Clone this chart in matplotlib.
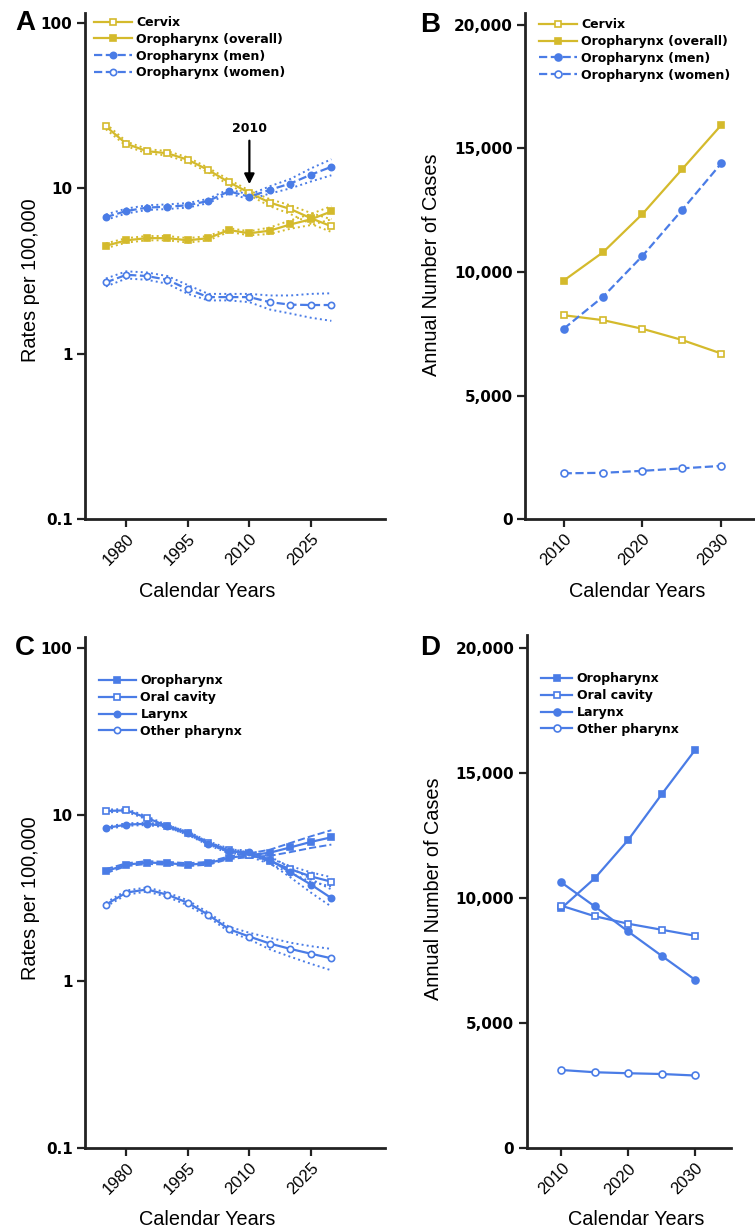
import matplotlib
matplotlib.use('Agg')
import matplotlib.pyplot as plt
from matplotlib import font_manager

# Fonts: a narrow face for axis labels if it is installed
_names = {f.name for f in font_manager.fontManager.ttflist}
NARROW = 'Liberation Sans Narrow' if 'Liberation Sans Narrow' in _names else 'Liberation Sans'
LABEL_SIZE = 15.5 if NARROW == 'Liberation Sans Narrow' else 14.3
BOLD = 'DejaVu Sans'

YELLOW = '#D4BA2C'
BLUE = '#4A7CE6'

# ---- Panel A: rates per 100,000 (log scale) ----
years_a = [1975, 1980, 1985, 1990, 1995, 2000, 2005, 2010, 2015, 2020, 2025, 2030]
cervix = [23.7, 18.6, 16.8, 16.3, 14.9, 12.9, 10.9, 9.4, 8.2, 7.5, 6.6, 5.9]
cervix_lo = [22.8, 18.0, 16.3, 15.8, 14.4, 12.5, 10.5, 9.1, 7.8, 7.0, 6.1, 5.45]
cervix_hi = [24.6, 19.2, 17.3, 16.8, 15.4, 13.3, 11.3, 9.7, 8.6, 7.9, 7.1, 6.5]
oro_all = [4.5, 4.85, 5.0, 5.0, 4.85, 5.0, 5.6, 5.35, 5.55, 6.05, 6.5, 7.25]
oro_all_lo = [4.35, 4.7, 4.85, 4.85, 4.7, 4.85, 5.45, 5.2, 5.3, 5.7, 6.0, 6.5]
oro_all_hi = [4.65, 5.0, 5.15, 5.15, 5.0, 5.15, 5.75, 5.5, 5.8, 6.4, 7.0, 7.8]
oro_men = [6.7, 7.3, 7.65, 7.75, 7.9, 8.4, 9.6, 8.9, 9.8, 10.7, 12.1, 13.5]
oro_men_lo = [6.45, 7.05, 7.4, 7.5, 7.65, 8.15, 9.3, 8.6, 9.3, 10.0, 11.0, 12.0]
oro_men_hi = [6.95, 7.55, 7.9, 8.0, 8.15, 8.65, 9.9, 9.15, 10.3, 11.4, 13.2, 15.0]
oro_women = [2.7, 3.0, 2.95, 2.8, 2.45, 2.2, 2.2, 2.2, 2.05, 1.98, 1.97, 1.97]
oro_women_lo = [2.55, 2.85, 2.8, 2.65, 2.3, 2.1, 2.1, 2.05, 1.85, 1.75, 1.65, 1.58]
oro_women_hi = [2.85, 3.15, 3.1, 2.95, 2.6, 2.3, 2.3, 2.3, 2.25, 2.25, 2.3, 2.32]

# ---- Panel B: annual number of cases ----
years_b = [2010, 2015, 2020, 2025, 2030]
cases_cervix = [8250, 8050, 7700, 7250, 6700]
cases_oro_all = [9650, 10800, 12350, 14150, 15950]
cases_oro_men = [7700, 9000, 10650, 12500, 14400]
cases_oro_women = [1850, 1870, 1950, 2050, 2150]

# ---- Panel C: rates per 100,000 by site ----
oro_c = [4.57, 5.0, 5.15, 5.1, 5.0, 5.1, 5.5, 5.7, 5.9, 6.35, 6.85, 7.3]
oro_c_lo = [4.45, 4.9, 5.05, 5.0, 4.9, 5.0, 5.4, 5.55, 5.65, 5.95, 6.3, 6.6]
oro_c_hi = [4.7, 5.1, 5.25, 5.2, 5.1, 5.2, 5.6, 5.85, 6.15, 6.75, 7.4, 8.05]
oral = [10.5, 10.6, 9.55, 8.5, 7.75, 6.75, 6.1, 5.75, 5.25, 4.7, 4.25, 3.95]
oral_lo = [10.3, 10.4, 9.35, 8.35, 7.6, 6.6, 5.95, 5.6, 5.05, 4.45, 3.95, 3.7]
oral_hi = [10.7, 10.8, 9.75, 8.65, 7.9, 6.9, 6.25, 5.9, 5.45, 4.9, 4.5, 4.2]
larynx = [8.3, 8.7, 8.8, 8.5, 7.7, 6.7, 6.0, 5.95, 5.35, 4.5, 3.8, 3.15]
larynx_lo = [8.15, 8.55, 8.65, 8.35, 7.55, 6.55, 5.85, 5.8, 5.1, 4.2, 3.4, 2.8]
larynx_hi = [8.45, 8.85, 8.95, 8.65, 7.85, 6.85, 6.15, 6.1, 5.6, 4.8, 4.1, 3.55]
other = [2.88, 3.4, 3.55, 3.3, 2.95, 2.5, 2.05, 1.85, 1.68, 1.56, 1.46, 1.37]
other_lo = [2.8, 3.3, 3.45, 3.2, 2.85, 2.42, 1.98, 1.78, 1.55, 1.4, 1.27, 1.16]
other_hi = [2.96, 3.5, 3.65, 3.4, 3.05, 2.58, 2.12, 1.95, 1.82, 1.7, 1.62, 1.56]

# ---- Panel D: annual number of cases by site ----
cases_oro = [9600, 10800, 12330, 14150, 15920]
cases_oral = [9700, 9280, 8980, 8740, 8500]
cases_larynx = [10630, 9670, 8670, 7700, 6740]
cases_other = [3130, 3040, 3000, 2970, 2910]

log_ticks = [0.1, 1, 10, 100]
log_labels = ['0.1', '1', '10', '100']
rate_xticks = [1980, 1995, 2010, 2025]
case_yticks = [0, 5000, 10000, 15000, 20000]
case_ylabels = ['0', '5,000', '10,000', '15,000', '20,000']
case_xticks = [2010, 2020, 2030]

fig = plt.figure(figsize=(7.55, 12.29), dpi=100)

ax_a = fig.add_axes([0.1126, 0.5777, 0.3974, 0.4117])
ax_b = fig.add_axes([0.6954, 0.5777, 0.3163, 0.4115])
ax_c = fig.add_axes([0.1126, 0.0662, 0.3974, 0.4158])
ax_d = fig.add_axes([0.6976, 0.0657, 0.2706, 0.4177])


def style_axes(ax):
    for side in ('top', 'right'):
        ax.spines[side].set_visible(False)
    for side in ('left', 'bottom'):
        ax.spines[side].set_linewidth(2)
        ax.spines[side].set_color('#222222')
    ax.tick_params(which='major', length=5.5, width=1.6, color='#222222')
    ax.tick_params(which='minor', length=0)
    ax.tick_params(axis='y', labelsize=11)
    for lab in ax.get_yticklabels():
        lab.set_fontfamily(BOLD)
        lab.set_fontweight('bold')
    for lab in ax.get_xticklabels():
        lab.set_fontfamily(NARROW)
        lab.set_fontsize(12)
        lab.set_rotation(45)
        lab.set_ha('right')
        lab.set_rotation_mode('anchor')


def series(ax, x, y, color, marker, filled, ls='-', ms=4.5, label=None):
    ax.plot(x, y, color=color, linestyle=ls, linewidth=1.6, marker=marker,
            markersize=ms, markeredgewidth=1.2,
            markerfacecolor=color if filled else 'white',
            markeredgecolor=color, label=label, zorder=3)


def band(ax, x, lo, hi, color, ls=':'):
    ax.plot(x, lo, color=color, linestyle=ls, linewidth=1.4, zorder=2)
    ax.plot(x, hi, color=color, linestyle=ls, linewidth=1.4, zorder=2)


def legend(ax, x, y, hl):
    leg = ax.legend(loc='upper left', bbox_to_anchor=(x, y), frameon=False,
                    borderaxespad=0, borderpad=0, handlelength=hl,
                    handletextpad=0.35, labelspacing=0.3, numpoints=1,
                    prop=dict(family=BOLD, weight='bold', size=9))
    return leg


# Panel A
band(ax_a, years_a, cervix_lo, cervix_hi, YELLOW)
band(ax_a, years_a, oro_all_lo, oro_all_hi, YELLOW)
band(ax_a, years_a, oro_men_lo, oro_men_hi, BLUE)
band(ax_a, years_a, oro_women_lo, oro_women_hi, BLUE)
series(ax_a, years_a, cervix, YELLOW, 's', False, label='Cervix')
series(ax_a, years_a, oro_all, YELLOW, 's', True, label='Oropharynx (overall)')
series(ax_a, years_a, oro_men, BLUE, 'o', True, ls='--', label='Oropharynx (men)')
series(ax_a, years_a, oro_women, BLUE, 'o', False, ls='--', label='Oropharynx (women)')
ax_a.set_yscale('log')
ax_a.set_ylim(0.1, 115)
ax_a.set_xlim(1969.9, 2043.1)
ax_a.set_yticks(log_ticks)
ax_a.set_yticklabels(log_labels)
ax_a.set_xticks(rate_xticks)
ax_a.annotate('2010', xy=(2010, 10.6), xytext=(2010, 21.0), ha='center', va='bottom',
              fontsize=9, fontweight='bold', family=BOLD,
              arrowprops=dict(arrowstyle='-|>', color='black', lw=1.6,
                              mutation_scale=15, shrinkA=2, shrinkB=0))
legend(ax_a, 0.03, 0.994, 3.0)

# Panel B
series(ax_b, years_b, cases_cervix, YELLOW, 's', False, ms=5, label='Cervix')
series(ax_b, years_b, cases_oro_all, YELLOW, 's', True, ms=5, label='Oropharynx (overall)')
series(ax_b, years_b, cases_oro_men, BLUE, 'o', True, ls='--', ms=5, label='Oropharynx (men)')
series(ax_b, years_b, cases_oro_women, BLUE, 'o', False, ls='--', ms=5, label='Oropharynx (women)')
ax_b.set_ylim(0, 20474)
ax_b.set_xlim(2005.1, 2035.4)
ax_b.set_yticks(case_yticks)
ax_b.set_yticklabels(case_ylabels)
ax_b.set_xticks(case_xticks)
legend(ax_b, 0.06, 0.99, 3.0)

# Panel C
band(ax_c, years_a, oro_c_lo, oro_c_hi, BLUE, ls='--')
band(ax_c, years_a, oral_lo, oral_hi, BLUE)
band(ax_c, years_a, larynx_lo, larynx_hi, BLUE)
band(ax_c, years_a, other_lo, other_hi, BLUE)
series(ax_c, years_a, oro_c, BLUE, 's', True, label='Oropharynx')
series(ax_c, years_a, oral, BLUE, 's', False, label='Oral cavity')
series(ax_c, years_a, larynx, BLUE, 'o', True, label='Larynx')
series(ax_c, years_a, other, BLUE, 'o', False, label='Other pharynx')
ax_c.set_yscale('log')
ax_c.set_ylim(0.1, 117)
ax_c.set_xlim(1969.9, 2043.1)
ax_c.set_yticks(log_ticks)
ax_c.set_yticklabels(log_labels)
ax_c.set_xticks(rate_xticks)
legend(ax_c, 0.045, 0.926, 3.0)

# Panel D
series(ax_d, years_b, cases_oro, BLUE, 's', True, ms=5, label='Oropharynx')
series(ax_d, years_b, cases_oral, BLUE, 's', False, ms=5, label='Oral cavity')
series(ax_d, years_b, cases_larynx, BLUE, 'o', True, ms=5, label='Larynx')
series(ax_d, years_b, cases_other, BLUE, 'o', False, ms=5, label='Other pharynx')
ax_d.set_ylim(0, 20532)
ax_d.set_xlim(2004.8, 2035.4)
ax_d.set_yticks(case_yticks)
ax_d.set_yticklabels(case_ylabels)
ax_d.set_xticks(case_xticks)
legend(ax_d, 0.07, 0.927, 2.5)

for ax in (ax_a, ax_b, ax_c, ax_d):
    style_axes(ax)
    ax.set_xlabel('Calendar Years', family=NARROW, fontsize=LABEL_SIZE)

ax_a.set_ylabel('Rates per 100,000', family=NARROW, fontsize=LABEL_SIZE)
ax_c.set_ylabel('Rates per 100,000', family=NARROW, fontsize=LABEL_SIZE)
ax_b.set_ylabel('Annual Number of Cases', family=NARROW, fontsize=LABEL_SIZE)
ax_d.set_ylabel('Annual Number of Cases', family=NARROW, fontsize=LABEL_SIZE)

ax_a.yaxis.set_label_coords(-0.15, 0.472)
ax_c.yaxis.set_label_coords(-0.15, 0.489)
ax_b.yaxis.set_label_coords(-0.352, 0.502)
ax_d.yaxis.set_label_coords(-0.41, 0.505)
ax_a.xaxis.set_label_coords(0.408, -0.124)
ax_b.xaxis.set_label_coords(0.468, -0.124)
ax_c.xaxis.set_label_coords(0.408, -0.122)
ax_d.xaxis.set_label_coords(0.538, -0.12)

# Panel letters
for letter, px, py in (('A', 25, 23), ('B', 430, 25), ('C', 25, 648), ('D', 430, 648)):
    fig.text(px / 755, 1 - py / 1229, letter, ha='center', va='center',
             fontsize=20, fontweight='bold', family='Liberation Sans')

fig.savefig('out.png', dpi=100)
